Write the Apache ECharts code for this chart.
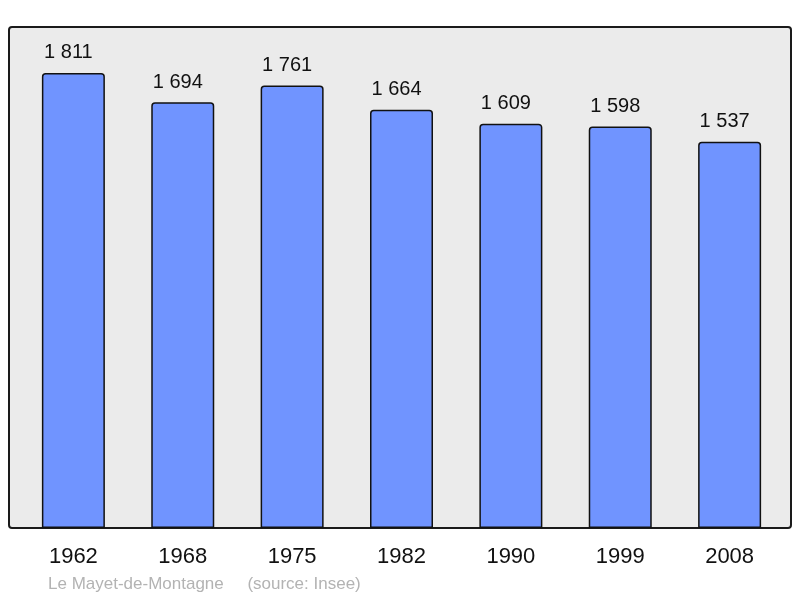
<!DOCTYPE html>
<html><head><meta charset="utf-8">
<script src="https://cdn.jsdelivr.net/npm/echarts@6/dist/echarts.min.js"></script>
<style>html,body{margin:0;padding:0;background:#fff}#c{width:800px;height:598px}</style>
</head><body><div id="c"></div>
<script>
const categories = ['1962','1968','1975','1982','1990','1999','2008'];
const population = [1811, 1694, 1761, 1664, 1609, 1598, 1537];
const footerText = 'Le Mayet-de-Montagne     (source: Insee)';

const chart = echarts.init(document.getElementById('c'), null, {renderer:'canvas'});
const fmt = v => { const s = String(v); return s.length > 3 ? s.slice(0, s.length-3) + ' ' + s.slice(-3) : s; };
chart.setOption({
  animation: false,
  backgroundColor: '#ffffff',
  textStyle: {fontFamily: 'Liberation Sans'},
  graphic: [
    {type:'rect', z:-10, shape:{x:9, y:27, width:782, height:501, r:3},
     style:{fill:'#ebebeb', stroke:'#1a1a1a', lineWidth:2}},
    {type:'text', left:48, top:576, style:{text: footerText, fill:'#b3b3b3', font:'17px "Liberation Sans"'}}
  ],
  grid: {left:18.7, top:25.4, width:765.6, height:502.6, containLabel:false},
  xAxis: {type:'category', data: categories,
    axisLine:{show:false}, axisTick:{show:false},
    axisLabel:{color:'#111', fontSize:22, margin:18, fontFamily:'Liberation Sans'}},
  yAxis: {type:'value', min:0, max:2000, show:false, splitLine:{show:false}},
  series: [{type:'bar', data: population, barWidth:63,
    itemStyle:{color:'#7094ff', borderColor:'#111', borderWidth:1.5, borderRadius:[3,3,0,0]},
    label:{show:true, position:'top', distance:10, offset:[-5,0], color:'#111', fontSize:20,
      fontFamily:'Liberation Sans', formatter: p => fmt(p.value)}}]
});
</script></body></html>
